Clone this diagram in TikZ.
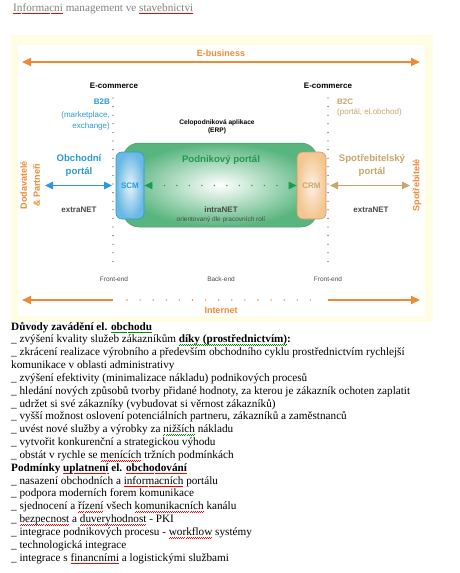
\documentclass[tikz,border=0pt]{standalone}
\usepackage{fontspec}
\setmainfont{Liberation Serif}
\newfontfamily\ars{Liberation Sans}
\usetikzlibrary{arrows.meta}
\newcommand\sq[2]{\setbox0\hbox{#2}\rlap{\textcolor{#1}{\hbox to\wd0{\xleaders\hbox{\rule[-2.9pt]{1pt}{0.6pt}\rule[-2.1pt]{1pt}{0.6pt}}\hfill}}}\box0\relax}
\newcommand\rw[1]{\sq{red}{#1}}
\newcommand\gw[1]{\sq{green!55!black}{#1}}
\definecolor{orng}{HTML}{EE8A34}
\definecolor{bl}{HTML}{2A9AD8}
\definecolor{tanc}{HTML}{C9A66B}
\definecolor{grn}{HTML}{1F9A4A}
\definecolor{portgrn}{HTML}{58B57E}
\definecolor{ylw}{HTML}{FFFDE3}
\definecolor{dgray}{HTML}{4A4A4A}
\definecolor{peach}{HTML}{F4C58F}
\tikzset{
  lbl/.style={inner sep=0pt, font=\ars\bfseries\fontsize{8}{9}\selectfont},
  big/.style={inner sep=0pt, align=center, font=\ars\bfseries\fontsize{9.6}{12.5}\selectfont},
  small/.style={inner sep=0pt, font=\ars\fontsize{6.5}{7.5}\selectfont, text=dgray},
  dots/.style={dgray, line width=1.3pt, line cap=round, dash pattern=on 0pt off 8.6pt},
  body/.style={anchor=base west, inner sep=0pt, font=\fontsize{11.2}{12.8}\selectfont},
  mytip/.tip={Triangle[length=8pt,width=7.5pt]},
  bigtip/.tip={Triangle[length=9pt,width=8pt]},
  gtip/.tip={Triangle[length=8pt,width=7pt]},
}
\begin{document}
\begin{tikzpicture}[x=1pt,y=-1pt]
\useasboundingbox (0,0) rectangle (459,573);
\fill[white] (0,0) rectangle (459,573);
\fill[ylw] (11,35) rectangle (433,322);
\fill[white] (18,45) rectangle (425,316);

% title
\node[anchor=base west, inner sep=0pt, text=gray, font=\fontsize{11.2}{12}\selectfont] (title) at (13,11) {\rw{Informacni} management ve \rw{stavebnictvi}};

% E-business
\coordinate (ebL) at (22,62);
\coordinate (ebR) at (420,62);
\draw[orng, line width=2pt, bigtip-bigtip] (ebL) -- (ebR);
\node[lbl, font=\ars\bfseries\fontsize{9}{10}\selectfont, text=orng] (ebus) at (221,53) {E-business};

% E-commerce
\node[lbl] (ecL) at (114,86) {E-commerce};
\node[lbl] (ecR) at (328,86) {E-commerce};

% dotted separators
\coordinate (d1a) at (113,98); \coordinate (d1b) at (113,267);
\coordinate (d2a) at (328,98); \coordinate (d2b) at (328,267);
\draw[dots] (d1a) -- (d1b);
\draw[dots] (d2a) -- (d2b);

% B2B / B2C
\node[lbl, anchor=east, text=bl] (b2b) at (110,102) {B2B};
\node[anchor=east, align=right, inner sep=0pt, text=bl, font=\ars\fontsize{8}{11}\selectfont] (b2bs) at (110,120.5) {(marketplace,\\exchange)};
\node[lbl, anchor=west, text=tanc] (b2c) at (337,102) {B2C};
\node[anchor=west, inner sep=0pt, text=tanc, font=\ars\fontsize{8}{9}\selectfont] (b2cs) at (337,112) {(portál, el.obchod)};

% ERP
\node[align=center, inner sep=0pt, font=\ars\bfseries\fontsize{6.6}{8}\selectfont] (erp) at (217,127) {Celopodniková aplikace\\(ERP)};

% portal
\node[draw=portgrn!85!black, line width=0.5pt, rounded corners=16pt, minimum width=194pt, minimum height=84pt, inner color=white, outer color=portgrn, shade] (portal) at (220,185) {};
\node[big, text=grn] (ptxt) at (221,160) {Podnikový portál};
\node[lbl, text=dgray] (intra) at (221,210) {intraNET};
\node[small] (orient) at (221,220) {orientovaný dle pracovních rolí};

% SCM / CRM
\node[draw=bl, line width=0.6pt, rounded corners=6pt, minimum width=28pt, minimum height=67pt, inner color=bl!12, outer color=bl!70, shade, lbl, text=bl] (scm) at (130,185.5) {SCM};
\node[draw=peach!80!black, line width=0.6pt, rounded corners=6pt, minimum width=29pt, minimum height=67pt, inner color=peach!25, outer color=peach, shade, lbl, text=tanc] (crm) at (311.5,185.5) {CRM};

\draw[grn, line width=1.6pt, line cap=round, dash pattern=on 0pt off 12.5pt, gtip-gtip] (scm.east) -- (crm.west);

% side portals
\node[big, text=bl] (obp) at (79,165.5) {Obchodní\\portál};
\node[big, text=tanc] (spp) at (372,165.5) {Spotřebitelský\\portál};

\coordinate (bA) at (45,185.5); \coordinate (bB) at (112,185.5);
\draw[bl, line width=1.5pt, mytip-mytip] (bA) -- (bB);
\coordinate (tA) at (330,185.5); \coordinate (tB) at (410,185.5);
\draw[tanc, line width=1.5pt, mytip-mytip] (tA) -- (tB);

\node[lbl, text=dgray] (exL) at (79,210) {extraNET};
\node[lbl, text=dgray] (exR) at (371,210) {extraNET};

% vertical labels
\node[big, rotate=90, text=orng, font=\ars\bfseries\fontsize{9}{13}\selectfont] (dod) at (30,185) {Dodavatelé\\\& Partneři};
\node[big, rotate=90, text=orng, font=\ars\bfseries\fontsize{9}{13}\selectfont] (spo) at (417,185) {Spotřebitelé};

% front/back end
\node[small] (fe1) at (114,279) {Front-end};
\node[small] (be) at (221,279) {Back-end};
\node[small] (fe2) at (328,279) {Front-end};

% Internet
\coordinate (inL) at (22,300); \coordinate (inL2) at (113,300);
\coordinate (inD1) at (127,300); \coordinate (inD2) at (314,300);
\coordinate (inR2) at (328,300); \coordinate (inR) at (420,300);
\draw[orng, line width=2pt, -bigtip] (inL2) -- (inL);
\draw[orng, line width=2pt, -bigtip] (inR2) -- (inR);
\draw[orng, line width=1.6pt, line cap=round, dash pattern=on 0pt off 13.1pt] (inD1) -- (inD2);
\node[lbl, font=\ars\bfseries\fontsize{9}{10}\selectfont, text=orng] (inet) at (221,310) {Internet};

% body text
\node[body] (l1) at (11,330) {\textbf{Důvody zavádění el. \gw{obchodu}}};
\node[body] (l2) at (11,342.8) {\_ zvýšení kvality služeb zákazníkům \textbf{\gw{díky (prostřednictvím)}:}};
\node[body] (l3) at (11,355.7) {\_ zkrácení realizace výrobního a především obchodního cyklu prostřednictvím rychlejší};
\node[body] (l4) at (11,368.5) {komunikace v oblasti administrativy};
\node[body] (l5) at (11,381.3) {\_ zvýšení efektivity (minimalizace nákladu) podnikových procesů};
\node[body] (l6) at (11,394.2) {\_ hledání nových způsobů tvorby přidané hodnoty, za kterou je zákazník ochoten zaplatit};
\node[body] (l7) at (11,407) {\_ udržet si své zákazníky (vybudovat si věrnost zákazníků)};
\node[body] (l8) at (11,419.8) {\_ vyšší možnost oslovení potenciálních partneru, zákazníků a zaměstnanců};
\node[body] (l9) at (11,432.6) {\_ uvést nové služby a výrobky za \gw{nižších} nákladu};
\node[body] (l10) at (11,445.5) {\_ vytvořit konkurenční a strategickou výhodu};
\node[body] (l11) at (11,458.3) {\_ obstát v rychle se \rw{menících} tržních podmínkách};
\node[body] (l12) at (11,471.1) {\textbf{Podmínky \rw{uplatnení} el. \rw{obchodování}}};
\node[body] (l13) at (11,484) {\_ nasazení obchodních a \rw{informacních} portálu};
\node[body] (l14) at (11,496.8) {\_ podpora moderních forem komunikace};
\node[body] (l15) at (11,509.6) {\_ sjednocení a \rw{řízení} všech \rw{komunikacních} kanálu};
\node[body] (l16) at (11,522.5) {\_ \rw{bezpecnost} a \rw{duveryhodnost} - PKI};
\node[body] (l17) at (11,535.3) {\_ integrace podnikových procesu - \rw{workflow} systémy};
\node[body] (l18) at (11,548.1) {\_ technologická integrace};
\node[body] (l19) at (11,561) {\_ integrace s \rw{financními} a logistickými službami};
\end{tikzpicture}
\end{document}
